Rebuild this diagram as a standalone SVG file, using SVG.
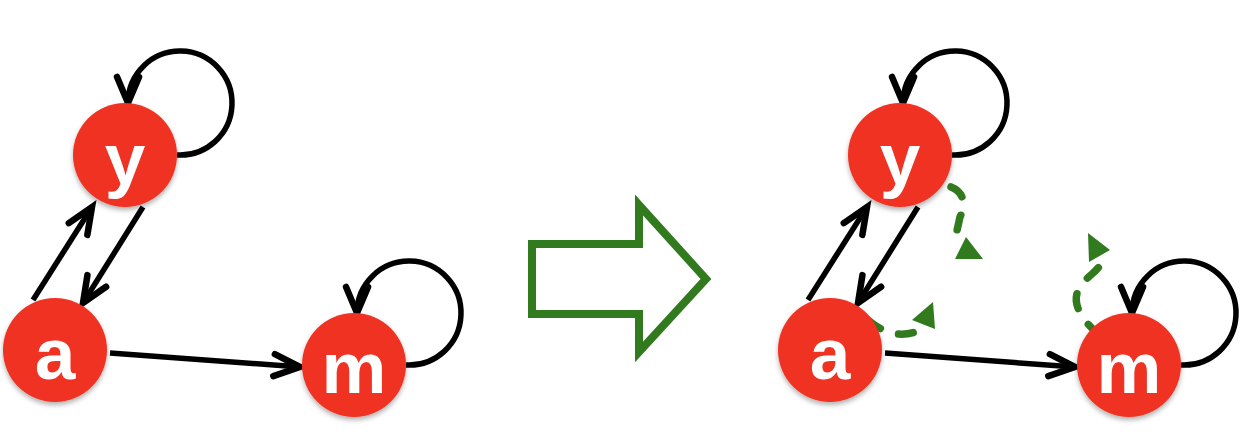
<svg xmlns="http://www.w3.org/2000/svg" width="1242" height="438" viewBox="0 0 1242 438">
  <style>
    .edge { fill: none; stroke: #000; stroke-width: 5.5; marker-end: url(#chev); }
    .tele { fill: none; stroke: #317a1e; stroke-width: 7.5; stroke-linecap: round; stroke-dasharray: 15 19; }
    .tri { fill: #317a1e; stroke: none; }
    .node circle { fill: #ef3224; filter: url(#shadow); }
    .node text { font-family: "Liberation Sans", Arial, Helvetica, sans-serif; font-weight: bold; font-size: 73px; fill: #fff; text-anchor: middle; }
  </style>
  <defs>
    <marker id="chev" markerUnits="userSpaceOnUse" viewBox="-32 -18 40 36" markerWidth="40" markerHeight="36" refX="0" refY="0" orient="auto" overflow="visible">
      <path d="M-26,-11 L0,0 L-26,11" fill="none" stroke="#000" stroke-width="6.5" stroke-linecap="round" stroke-linejoin="miter"/>
    </marker>
    <filter id="shadow" x="-20%" y="-20%" width="140%" height="150%">
      <feDropShadow dx="0" dy="3" stdDeviation="2.5" flood-color="#000" flood-opacity="0.3"/>
    </filter>
  </defs>

  <g id="connectors">
    <!-- left graph -->
    <path class="edge" d="M33,300 L92,207"/>
    <path class="edge" d="M143,207 L83,303"/>
    <path class="edge" d="M110,353 L300,367"/>
    <path class="edge" d="M177,155 A52,52 0 1 0 128,103"/>
    <path class="edge" d="M406,365 A52,52 0 1 0 357,313"/>
    <!-- right graph -->
    <path class="edge" d="M808,300 L867,207"/>
    <path class="edge" d="M918,207 L858,303"/>
    <path class="edge" d="M885,353 L1075,367"/>
    <path class="edge" d="M952,155 A52,52 0 1 0 903,103"/>
    <path class="edge" d="M1181,365 A52,52 0 1 0 1132,313"/>
    <!-- teleport (green dashed) -->
    <path class="tele" d="M951,187 C966,193 965,207 960,217 L954,244"/>
    <polygon class="tri" points="955,259 983,259 966,237"/>
    <path class="tele" d="M868,320 Q893,341 918,331"/>
    <polygon class="tri" points="912,320 933,302 935,329"/>
    <path class="tele" d="M1099,335 C1062,302 1078,286 1092,274 S1101,258 1100,252"/>
    <polygon class="tri" points="1088,233 1110,250 1089,262"/>
  </g>

  <g id="transform-arrow">
    <polygon points="532,244 639,244 639,205 706,279 639,352 639,314 532,314" fill="none" stroke="#317a1e" stroke-width="8" stroke-linejoin="miter"/>
  </g>

  <g id="node-y-left" class="node"><circle cx="125" cy="155" r="52"/><text x="125" y="184">y</text></g>
  <g id="node-a-left" class="node"><circle cx="55" cy="350" r="52"/><text x="55" y="379">a</text></g>
  <g id="node-m-left" class="node"><circle cx="354" cy="365" r="52"/><text x="354" y="393">m</text></g>

  <g id="node-y-right" class="node"><circle cx="900" cy="155" r="52"/><text x="900" y="184">y</text></g>
  <g id="node-a-right" class="node"><circle cx="830" cy="350" r="52"/><text x="830" y="379">a</text></g>
  <g id="node-m-right" class="node"><circle cx="1129" cy="365" r="52"/><text x="1129" y="393">m</text></g>
</svg>
